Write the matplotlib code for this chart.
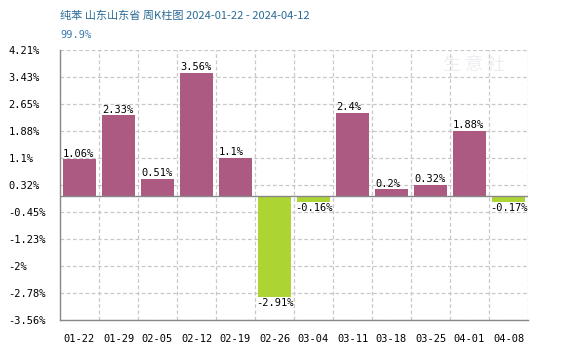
import matplotlib
matplotlib.use("Agg")
import matplotlib.pyplot as plt
import numpy as np

categories = ["01-22", "01-29", "02-05", "02-12", "02-19", "02-26",
              "03-04", "03-11", "03-18", "03-25", "04-01", "04-08"]
values = [1.06, 2.33, 0.51, 3.56, 1.1, -2.91, -0.16, 2.4, 0.2, 0.32, 1.88, -0.17]
y_ticks = [4.21, 3.43, 2.65, 1.88, 1.1, 0.32, -0.45, -1.23, -2, -2.78, -3.56]
title = "纯苯 山东山东省 周K柱图 2024-01-22 - 2024-04-12"
subtitle = "99.9%"

UP = "#ac5a82"
DOWN = "#acd533"
GRID = "#c8c8c8"
AXIS = "#888888"
mono = ["DejaVu Sans Mono"]

fig = plt.figure(figsize=(5.8, 3.5), dpi=100)
ax = fig.add_axes([60 / 580, 1 - 320 / 350, 468 / 580, 270 / 350])

x = np.arange(len(categories))
colors = [UP if v >= 0 else DOWN for v in values]
width = 0.85
ax.bar(x, values, width=width, color=colors, zorder=3)

ax.set_xlim(-0.5, len(categories) - 0.5)
ax.set_ylim(min(y_ticks), max(y_ticks))

# grid: horizontal at ticks, vertical at category boundaries
for yt in y_ticks:
    ax.axhline(yt, color=GRID, lw=0.9, ls=(0, (3, 2)), zorder=1)
for b in np.arange(-0.5, len(categories) + 0.5, 1.0)[1:]:
    ax.axvline(b, color=GRID, lw=0.9, ls=(0, (3, 2)), zorder=1)
ax.axhline(0, color=AXIS, lw=1.0, zorder=4)

for s in ["top", "right"]:
    ax.spines[s].set_visible(False)
for s in ["left", "bottom"]:
    ax.spines[s].set_color(AXIS)
    ax.spines[s].set_linewidth(1.0)
    ax.spines[s].set_zorder(5)

ax.set_yticks(y_ticks)
ax.set_yticklabels([f"{t:g}%" for t in y_ticks], family=mono, fontsize=7.5, ha="left")
ax.tick_params(axis="y", length=0, pad=37)
ax.set_xticks(x)
ax.set_xticklabels(categories, family=mono, fontsize=7.5)
ax.tick_params(axis="x", length=0, pad=10)

for xi, v in zip(x, values):
    left = xi - width / 2
    if v >= 0:
        ax.annotate(f"{v:g}%", (left, v), xytext=(0, 0.5), textcoords="offset points",
                    ha="left", va="bottom", family=mono, fontsize=7.5, zorder=6)
    else:
        ax.annotate(f"{v:g}%", (left, v), xytext=(-1, -0.5), textcoords="offset points",
                    ha="left", va="top", family=mono, fontsize=7.5, zorder=6)

# faint watermark
fig.text(443 / 580, 1 - 65 / 350, "生 意 社", family=["Noto Sans CJK SC"], fontsize=13,
         color="#eeeef2", ha="left", va="center", zorder=0)

fig.text(60 / 580, 1 - 16 / 350, title, family=["Noto Sans CJK SC", "DejaVu Sans"],
         fontsize=8, color="#2a6a96", ha="left", va="center")
fig.text(60 / 580, 1 - 35 / 350, subtitle, family=mono, fontsize=7.5,
         color="#3a7ab0", ha="left", va="center")

fig.savefig("out.png", dpi=100)
